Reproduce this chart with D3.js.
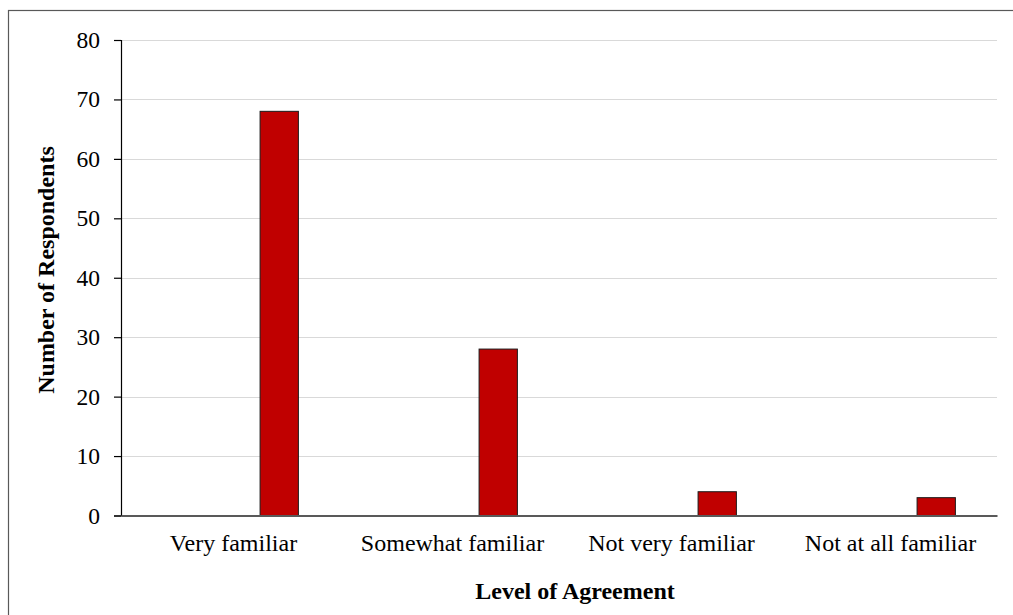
<!DOCTYPE html>
<html><head><meta charset="utf-8">
<script src="https://cdn.jsdelivr.net/npm/d3@7"></script>
<style>body{margin:0;background:#fff}svg{display:block}</style>
</head><body>
<svg id="c" width="1013" height="615"></svg>
<script>
const categories = ["Very familiar", "Somewhat familiar", "Not very familiar", "Not at all familiar"];
const seriesNames = ["(blank)", "Respondents"];
const respondents = [68, 28, 4, 3];
const yTicks = [0, 10, 20, 30, 40, 50, 60, 70, 80];
const xTitle = "Level of Agreement";
const yTitle = "Number of Respondents";

const svg = d3.select("#c");
const font = "'Liberation Serif','Times New Roman',serif";
const plotL = 121, plotR = 997, plotT = 40, plotB = 515.5;

// outer frame
svg.append("rect").attr("x", 8.5).attr("y", 10.5).attr("width", 1010).attr("height", 610)
  .attr("fill", "none").attr("stroke", "#595959").attr("stroke-width", 1.2);

const x = d3.scaleBand().domain(categories).range([plotL, plotR]).padding(0);
const inner = d3.scaleBand().domain(seriesNames).range([0, x.bandwidth()])
  .paddingInner(0.607).paddingOuter(0.427);
const y = d3.scaleLinear().domain([0, 80]).range([plotB, plotT]);

// grid
svg.append("g").selectAll("line").data(yTicks.filter(d => d > 0)).join("line")
  .attr("x1", plotL).attr("x2", plotR)
  .attr("y1", d => Math.round(y(d)) + 0.5).attr("y2", d => Math.round(y(d)) + 0.5)
  .attr("stroke", "#d9d9d9").attr("stroke-width", 1.2);

// bars
svg.append("g").selectAll("rect").data(categories.map((c, i) => ({c, v: respondents[i]}))).join("rect")
  .attr("x", d => x(d.c) + inner("Respondents"))
  .attr("width", inner.bandwidth())
  .attr("y", d => y(d.v))
  .attr("height", d => y(0) - y(d.v))
  .attr("fill", "#c00000").attr("stroke", "#1a1a1a").attr("stroke-width", 1);

// y axis
const yAxis = d3.axisLeft(y).tickValues(yTicks).tickSize(7).tickPadding(14).tickFormat(d3.format("d"));
const ya = svg.append("g").attr("transform", `translate(${plotL},0)`).call(yAxis);
ya.select(".domain").attr("stroke", "#000").attr("stroke-width", 1.2);
ya.selectAll(".tick line").attr("stroke", "#000").attr("stroke-width", 1.2);
ya.selectAll("text").attr("font-family", font).attr("font-size", 23.5).attr("fill", "#000");

// x axis
const xAxis = d3.axisBottom(x).tickSize(0).tickPadding(18);
const xa = svg.append("g").attr("transform", `translate(0,${plotB})`).call(xAxis);
xa.select(".domain").attr("stroke", "#595959").attr("stroke-width", 2.2);
xa.selectAll("text").attr("font-family", font).attr("font-size", 24).attr("fill", "#000")
  .attr("dx", 3);

// titles
svg.append("text").attr("x", 575).attr("y", 599).attr("text-anchor", "middle")
  .attr("font-family", font).attr("font-size", 24).attr("font-weight", "bold").text(xTitle);
svg.append("text").attr("transform", "translate(54,270) rotate(-90)").attr("text-anchor", "middle")
  .attr("font-family", font).attr("font-size", 24).attr("font-weight", "bold").text(yTitle);
</script>
</body></html>
